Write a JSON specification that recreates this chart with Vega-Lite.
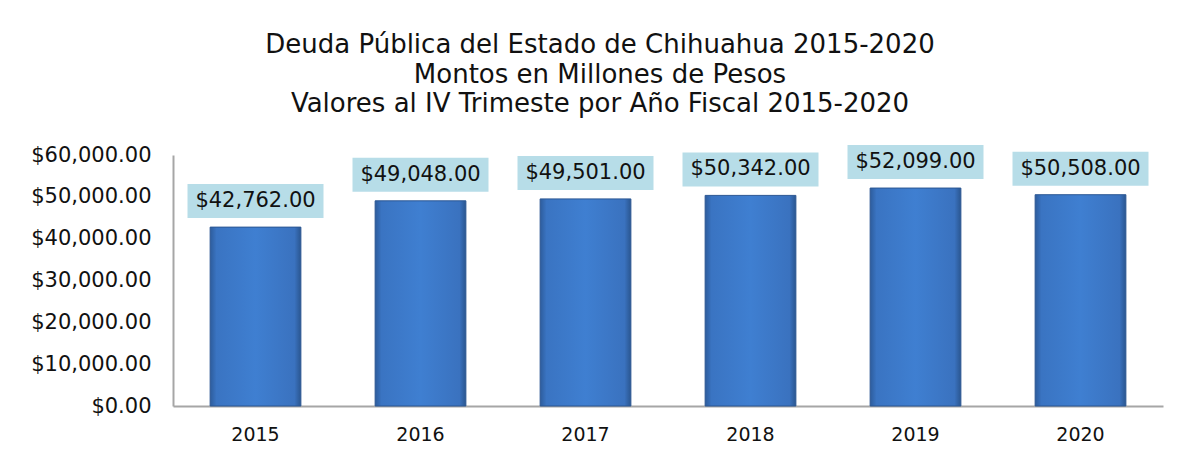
{
  "$schema": "https://vega.github.io/schema/vega-lite/v6.json",
  "autosize": {"type": "none"},
  "width": 990,
  "height": 251,
  "padding": {"left": 173, "top": 155, "right": 22, "bottom": 51},
  "background": "white",
  "config": {"view": {"stroke": null}, "font": "DejaVu Sans"},
  "title": {
    "text": ["Deuda Pública del Estado de Chihuahua 2015-2020", "Montos en Millones de Pesos", "Valores al IV Trimeste por Año Fiscal 2015-2020"],
    "anchor": "middle",
    "dx": -68,
    "offset": 27,
    "fontSize": 26,
    "lineHeight": 29.5,
    "fontWeight": "normal",
    "font": "DejaVu Sans",
    "color": "#111111"
  },
  "data": {
    "values": [
      {"anio": "2015", "monto": 42762},
      {"anio": "2016", "monto": 49048},
      {"anio": "2017", "monto": 49501},
      {"anio": "2018", "monto": 50342},
      {"anio": "2019", "monto": 52099},
      {"anio": "2020", "monto": 50508}
    ]
  },
  "encoding": {
    "x": {
      "field": "anio", "type": "nominal", "sort": null,
      "scale": {"paddingInner": 0.45, "paddingOuter": 0.225},
      "axis": {"title": null, "labelAngle": 0, "ticks": false, "labelPadding": 19, "labelFontSize": 19, "labelColor": "#111111", "labelFont": "DejaVu Sans", "domainColor": "#a6a6a6", "domainWidth": 2, "grid": false}
    },
    "y": {
      "field": "monto", "type": "quantitative",
      "scale": {"domain": [0, 60000], "nice": false},
      "axis": {"title": null, "values": [0, 10000, 20000, 30000, 40000, 50000, 60000], "format": "$,.2f", "ticks": false, "labelPadding": 22, "labelFontSize": 21, "labelColor": "#111111", "labelFont": "DejaVu Sans", "domainColor": "#a6a6a6", "domainWidth": 2, "grid": false}
    }
  },
  "layer": [
    {
      "mark": {
        "type": "bar",
        "stroke": "#2b5793",
        "strokeWidth": 1,
        "color": {
          "gradient": "linear", "x1": 0, "y1": 0, "x2": 1, "y2": 0,
          "stops": [
            {"offset": 0, "color": "#2d5c9c"},
            {"offset": 0.07, "color": "#3a74c2"},
            {"offset": 0.5, "color": "#3f7fd1"},
            {"offset": 0.93, "color": "#3a72bf"},
            {"offset": 1, "color": "#2a5690"}
          ]
        }
      }
    },
    {
      "mark": {
        "type": "point",
        "shape": "M-1,-0.25H1V0.25H-1Z",
        "size": 18496,
        "filled": true,
        "fill": "#b7dde8",
        "opacity": 1,
        "strokeWidth": 0,
        "yOffset": -26
      }
    },
    {
      "mark": {
        "type": "text",
        "yOffset": -26,
        "baseline": "middle",
        "align": "center",
        "fontSize": 21,
        "font": "DejaVu Sans",
        "color": "#111111"
      },
      "encoding": {"text": {"field": "monto", "type": "quantitative", "format": "$,.2f"}}
    }
  ]
}
